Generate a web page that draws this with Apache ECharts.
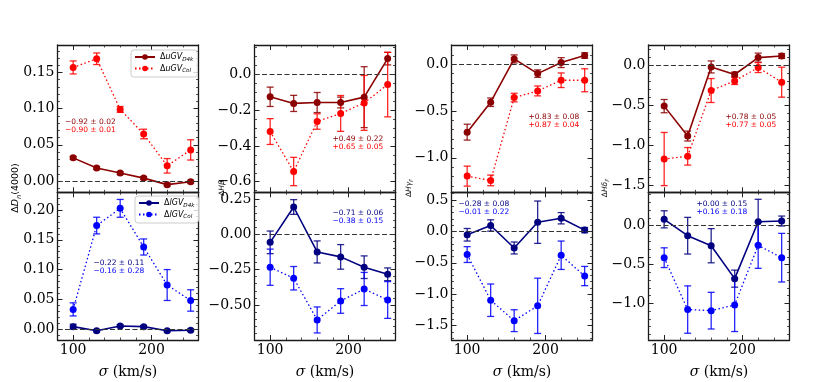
<!DOCTYPE html>
<html>
<head>
<meta charset="utf-8">
<script src="https://cdn.jsdelivr.net/npm/echarts@6/dist/echarts.min.js"></script>
<style>
  html, body { margin: 0; padding: 0; background: #fff; }
  #main { width: 830px; height: 382px; }
</style>
</head>
<body>
<div id="main"></div>
<script>
// velocity dispersion bins
var sigma = [100, 130, 160, 190, 220, 250];

// Dn(4000)
var dn_uD4k = [0.032, 0.018, 0.011, 0.004, -0.005, -0.001];
var dn_uD4kErr = [0.002, 0.002, 0.002, 0.002, 0.002, 0.002];
var dn_uCol = [0.157, 0.169, 0.099, 0.065, 0.021, 0.043];
var dn_uColErr = [0.009, 0.008, 0.004, 0.0066, 0.010, 0.014];
var dn_lD4k = [0.004, -0.003, 0.005, 0.004, -0.003, -0.002];
var dn_lD4kErr = [0.004, 0.002, 0.002, 0.002, 0.002, 0.002];
var dn_lCol = [0.033, 0.174, 0.203, 0.138, 0.074, 0.048];
var dn_lColErr = [0.011, 0.014, 0.015, 0.0135, 0.026, 0.018];

// H beta
var hb_uD4k = [-0.126, -0.163, -0.158, -0.158, -0.128, 0.087];
var hb_uD4kErr = [0.054, 0.045, 0.056, 0.030, 0.17, 0.035];
var hb_uCol = [-0.32, -0.543, -0.264, -0.219, -0.160, -0.058];
var hb_uColErr = [0.072, 0.079, 0.043, 0.10, 0.153, 0.18];
var hb_lD4k = [-0.057, 0.193, -0.125, -0.160, -0.233, -0.283];
var hb_lD4kErr = [0.08, 0.052, 0.078, 0.087, 0.08, 0.045];
var hb_lCol = [-0.233, -0.311, -0.606, -0.472, -0.387, -0.465];
var hb_lColErr = [0.128, 0.083, 0.092, 0.087, 0.117, 0.13];

// H gamma F
var hg_uD4k = [-0.726, -0.406, 0.057, -0.10, 0.018, 0.093];
var hg_uD4kErr = [0.085, 0.045, 0.043, 0.04, 0.053, 0.03];
var hg_uCol = [-1.196, -1.242, -0.356, -0.285, -0.171, -0.171];
var hg_uColErr = [0.107, 0.057, 0.046, 0.053, 0.078, 0.123];
var hg_lD4k = [-0.053, 0.095, -0.263, 0.147, 0.21, 0.021];
var hg_lD4kErr = [0.1, 0.09, 0.095, 0.337, 0.09, 0.042];
var hg_lCol = [-0.368, -1.095, -1.42, -1.184, -0.379, -0.71];
var hg_lColErr = [0.126, 0.258, 0.174, 0.44, 0.226, 0.153];

// H delta F
var hd_uD4k = [-0.508, -0.883, -0.017, -0.112, 0.10, 0.121];
var hd_uD4kErr = [0.083, 0.062, 0.075, 0.03, 0.056, 0.03];
var hd_uCol = [-1.171, -1.137, -0.3125, -0.192, -0.025, -0.208];
var hd_uColErr = [0.333, 0.11, 0.15, 0.045, 0.062, 0.188];
var hd_lD4k = [0.082, -0.129, -0.258, -0.682, 0.05, 0.06];
var hd_lD4kErr = [0.11, 0.236, 0.22, 0.11, 0.29, 0.064];
var hd_lCol = [-0.412, -1.08, -1.094, -1.02, -0.253, -0.412];
var hd_lColErr = [0.127, 0.305, 0.236, 0.343, 0.296, 0.313];

// correlation texts per panel (first line D4k, second line Col)
var notes = [
  ['\u22120.92 \u00b1 0.02', '\u22120.90 \u00b1 0.01'],
  ['\u22120.22 \u00b1 0.11', '\u22120.16 \u00b1 0.28'],
  ['+0.49 \u00b1 0.22', '+0.65 \u00b1 0.05'],
  ['\u22120.71 \u00b1 0.06', '\u22120.38 \u00b1 0.15'],
  ['+0.83 \u00b1 0.08', '+0.87 \u00b1 0.04'],
  ['\u22120.28 \u00b1 0.08', '\u22120.01 \u00b1 0.22'],
  ['+0.78 \u00b1 0.05', '+0.77 \u00b1 0.05'],
  ['+0.00 \u00b1 0.15', '+0.16 \u00b1 0.18']
];

var xMajor = [100, 200];

var colLeft = [57.5, 254.5, 451.5, 648.5];
var colW = 141;
var rowTop = [45, 192.3];
var rowH = [147.3, 147.7];

var colors = {
  uD4k: '#8b0000', uCol: '#ff0000',
  lD4k: '#000080', lCol: '#0000ff'
};

var panels = [
  {c: 0, r: 0, a: dn_uD4k, ae: dn_uD4kErr, b: dn_uCol, be: dn_uColErr, ymin: -0.0156, ymax: 0.188,
   major: [0, 0.05, 0.10, 0.15], minorStep: 0.01, dec: 2, note: [65, 117.5]},
  {c: 0, r: 1, a: dn_lD4k, ae: dn_lD4kErr, b: dn_lCol, be: dn_lColErr, ymin: -0.0185, ymax: 0.230,
   major: [0, 0.05, 0.10, 0.15, 0.20], minorStep: 0.01, dec: 2, note: [93.5, 258.5]},
  {c: 1, r: 0, a: hb_uD4k, ae: hb_uD4kErr, b: hb_uCol, be: hb_uColErr, ymin: -0.659, ymax: 0.163,
   major: [-0.6, -0.4, -0.2, 0], minorStep: 0.05, dec: 1, note: [332.5, 134.5]},
  {c: 1, r: 1, a: hb_lD4k, ae: hb_lD4kErr, b: hb_lCol, be: hb_lColErr, ymin: -0.748, ymax: 0.297,
   major: [-0.5, -0.25, 0, 0.25], minorStep: 0.05, dec: 2, note: [332.5, 208.5]},
  {c: 2, r: 0, a: hg_uD4k, ae: hg_uD4kErr, b: hg_uCol, be: hg_uColErr, ymin: -1.369, ymax: 0.206,
   major: [-1.0, -0.5, 0], minorStep: 0.1, dec: 1, note: [528.5, 112.5]},
  {c: 2, r: 1, a: hg_lD4k, ae: hg_lD4kErr, b: hg_lCol, be: hg_lColErr, ymin: -1.728, ymax: 0.623,
   major: [-1.5, -1.0, -0.5, 0, 0.5], minorStep: 0.1, dec: 1, note: [458.5, 199.5]},
  {c: 3, r: 0, a: hd_uD4k, ae: hd_uD4kErr, b: hd_uCol, be: hd_uColErr, ymin: -1.588, ymax: 0.258,
   major: [-1.5, -1.0, -0.5, 0], minorStep: 0.1, dec: 1, note: [725.5, 112.5]},
  {c: 3, r: 1, a: hd_lD4k, ae: hd_lD4kErr, b: hd_lCol, be: hd_lColErr, ymin: -1.472, ymax: 0.430,
   major: [-1.0, -0.5, 0], minorStep: 0.1, dec: 1, note: [696.5, 199.5]}
];

var yLabels = [
  {x: 16, text: '{d|\u0394}{t|D}{s|n}{d|(4000)}', size: 9.5},
  {x: 222, text: '{d|\u0394}{t|H\u03b2}', size: 7.5},
  {x: 409, text: '{d|\u0394}{t|H\u03b3}{s|F}', size: 7.5},
  {x: 605, text: '{d|\u0394}{t|H\u03b4}{s|F}', size: 7.5}
];

var legendText = {
  uD4k: '{d|\u0394}{t|uGV}{s|D4k}',
  uCol: '{d|\u0394}{t|uGV}{s|Col}',
  lD4k: '{d|\u0394}{t|lGV}{s|D4k}',
  lCol: '{d|\u0394}{t|lGV}{s|Col}'
};

function minorTicks(min, max, step, major) {
  var out = [];
  var start = Math.ceil(min / step - 1e-9);
  for (var k = start; k * step <= max + 1e-9; k++) {
    var v = +(k * step).toFixed(6);
    var isMajor = major.some(function (m) { return Math.abs(m - v) < 1e-9; });
    if (!isMajor) out.push(v);
  }
  return out;
}

function fmt(v, dec) {
  var s = (Math.abs(v) < 1e-12 ? 0 : v).toFixed(dec);
  return s.replace('-', '\u2212');
}

function errRender(params, api) {
  var x = api.value(0);
  var p1 = api.coord([x, api.value(1)]);
  var p2 = api.coord([x, api.value(2)]);
  var cap = 3.5;
  var st = {stroke: api.visual('color'), lineWidth: 1.3, opacity: 0.85};
  return {
    type: 'group',
    children: [
      {type: 'line', shape: {x1: p1[0], y1: p1[1], x2: p2[0], y2: p2[1]}, style: st},
      {type: 'line', shape: {x1: p1[0] - cap, y1: p1[1], x2: p1[0] + cap, y2: p1[1]}, style: st},
      {type: 'line', shape: {x1: p2[0] - cap, y1: p2[1], x2: p2[0] + cap, y2: p2[1]}, style: st}
    ]
  };
}

var serif = 'DejaVu Serif';
var sans = 'DejaVu Sans';
var frame = {show: true, onZero: false, lineStyle: {color: '#1a1a1a', width: 1.3}};
var noLine = {show: false, onZero: false};

var grids = [], xAxes = [], yAxes = [], series = [], graphics = [];

panels.forEach(function (p, g) {
  grids.push({left: colLeft[p.c], top: rowTop[p.r], width: colW, height: rowH[p.r]});

  var xMinor = minorTicks(80, 260, 20, xMajor);
  var yMinor = minorTicks(p.ymin, p.ymax, p.minorStep, p.major);
  var showX = p.r === 1;

  ['bottom', 'top'].forEach(function (pos) {
    xAxes.push({
      gridIndex: g, type: 'value', position: pos, min: 80, max: 260,
      axisLine: frame, splitLine: {show: false},
      axisTick: {inside: true, length: 5, customValues: xMajor, lineStyle: {color: '#222', width: 1}},
      axisLabel: {
        show: pos === 'bottom' && showX, customValues: xMajor, margin: 3,
        fontFamily: serif, fontSize: 14, color: '#000'
      },
      name: (pos === 'bottom' && showX) ? '{i|\u03c3} (km/s)' : '',
      nameLocation: 'middle', nameGap: 25,
      nameTextStyle: {fontFamily: serif, fontSize: 14, color: '#000',
        rich: {i: {fontFamily: serif, fontSize: 14, fontStyle: 'italic', color: '#000'}}}
    });
    xAxes.push({
      gridIndex: g, type: 'value', position: pos, min: 80, max: 260,
      axisLine: noLine, splitLine: {show: false}, axisLabel: {show: false},
      axisTick: {inside: true, length: 2.5, customValues: xMinor, lineStyle: {color: '#222', width: 0.8}}
    });
  });

  ['left', 'right'].forEach(function (pos) {
    yAxes.push({
      gridIndex: g, type: 'value', position: pos, min: p.ymin, max: p.ymax,
      axisLine: frame, splitLine: {show: false},
      axisTick: {inside: true, length: 5, customValues: p.major, lineStyle: {color: '#222', width: 1}},
      axisLabel: {
        show: pos === 'left', customValues: p.major, margin: 3,
        fontFamily: serif, fontSize: 14, color: '#000',
        formatter: (function (dec) { return function (v) { return fmt(v, dec); }; })(p.dec)
      }
    });
    yAxes.push({
      gridIndex: g, type: 'value', position: pos, min: p.ymin, max: p.ymax,
      axisLine: noLine, splitLine: {show: false}, axisLabel: {show: false},
      axisTick: {inside: true, length: 2.5, customValues: yMinor, lineStyle: {color: '#222', width: 0.8}}
    });
  });

  var nameA = p.r === 0 ? 'uD4k' : 'lD4k';
  var nameB = p.r === 0 ? 'uCol' : 'lCol';
  var xi = 4 * g, yi = 4 * g;

  function pts(vals) { return sigma.map(function (s, i) { return [s, vals[i]]; }); }
  function bars(vals, errs) { return sigma.map(function (s, i) { return [s, vals[i] - errs[i], vals[i] + errs[i]]; }); }

  series.push({
    type: 'custom', xAxisIndex: xi, yAxisIndex: yi, renderItem: errRender,
    itemStyle: {color: colors[nameA]}, encode: {x: 0, y: [1, 2]}, data: bars(p.a, p.ae), z: 3, silent: true
  });
  series.push({
    type: 'custom', xAxisIndex: xi, yAxisIndex: yi, renderItem: errRender,
    itemStyle: {color: colors[nameB]}, encode: {x: 0, y: [1, 2]}, data: bars(p.b, p.be), z: 3, silent: true
  });
  series.push({
    name: nameA, type: 'line', xAxisIndex: xi, yAxisIndex: yi, data: pts(p.a),
    symbol: 'circle', symbolSize: 7, color: colors[nameA],
    lineStyle: {color: colors[nameA], width: 1.6}, itemStyle: {color: colors[nameA]}, z: 4,
    markLine: {
      silent: true, symbol: 'none', label: {show: false},
      lineStyle: {color: '#333', type: [5, 2.5], width: 1.1},
      data: [{yAxis: 0}]
    }
  });
  series.push({
    name: nameB, type: 'line', xAxisIndex: xi, yAxisIndex: yi, data: pts(p.b),
    symbol: 'circle', symbolSize: 7, color: colors[nameB],
    lineStyle: {color: colors[nameB], width: 1.3, type: [1.5, 2.5]}, itemStyle: {color: colors[nameB]}, z: 4
  });

  graphics.push({
    type: 'text', x: p.note[0], y: p.note[1], z: 10,
    style: {
      text: '{a|' + notes[g][0] + '}\n{b|' + notes[g][1] + '}',
      rich: {
        a: {fill: colors[nameA], fontFamily: sans, fontSize: 7.5, lineHeight: 8.5},
        b: {fill: colors[nameB], fontFamily: sans, fontSize: 7.5, lineHeight: 8.5}
      }
    }
  });
});

yLabels.forEach(function (l) {
  graphics.push({
    type: 'text', x: l.x, y: 188, rotation: Math.PI / 2, z: 10,
    style: {
      text: l.text, align: 'center', verticalAlign: 'middle',
      rich: {
        d: {fontFamily: sans, fontSize: l.size, fill: '#000', lineHeight: l.size * 1.4},
        t: {fontFamily: sans, fontSize: l.size, fontStyle: 'italic', fill: '#000', lineHeight: l.size * 1.4},
        s: {fontFamily: sans, fontSize: l.size * 0.7, fontStyle: 'italic', fill: '#000',
            verticalAlign: 'bottom', lineHeight: l.size * 1.4}
      }
    }
  });
});

var legendRich = {
  d: {fontFamily: sans, fontSize: 8, color: '#000', lineHeight: 11},
  t: {fontFamily: sans, fontSize: 8, fontStyle: 'italic', color: '#000', lineHeight: 11},
  s: {fontFamily: sans, fontSize: 5.6, fontStyle: 'italic', color: '#000', verticalAlign: 'bottom', lineHeight: 11}
};

function makeLegend(names, left, top) {
  return {
    data: names, orient: 'vertical', left: left, top: top,
    padding: [3, 4, 3, 3], itemGap: 2, itemWidth: 20, itemHeight: 7,
    backgroundColor: 'rgba(255,255,255,0.8)', borderColor: '#ccc', borderWidth: 1, borderRadius: 3,
    selectedMode: false,
    formatter: function (n) { return legendText[n]; },
    textStyle: {fontSize: 8, padding: [0, 0, 0, 0], rich: legendRich}
  };
}

var chart = echarts.init(document.getElementById('main'), null, {renderer: 'canvas'});
chart.setOption({
  animation: false,
  backgroundColor: '#fff',
  grid: grids,
  xAxis: xAxes,
  yAxis: yAxes,
  series: series,
  legend: [makeLegend(['uD4k', 'uCol'], 131, 50), makeLegend(['lD4k', 'lCol'], 135, 196)],
  graphic: graphics
});
</script>
</body>
</html>
